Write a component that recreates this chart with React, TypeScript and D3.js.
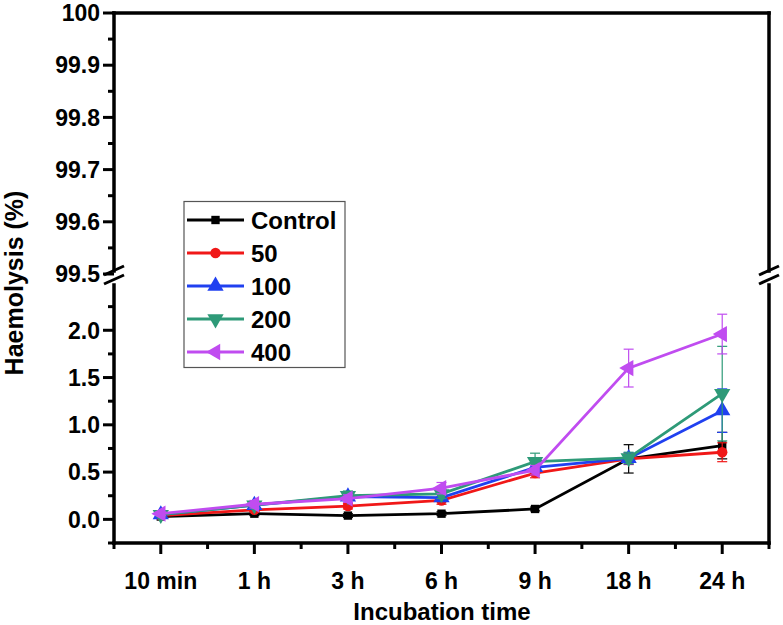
import React from "react";
import * as d3 from "d3";

const categories = ["10 min", "1 h", "3 h", "6 h", "9 h", "18 h", "24 h"];
const seriesNames = ["Control", "50", "100", "200", "400"];
const seriesColors = ["#000000", "#f01818", "#2040f0", "#2e9a78", "#c04cf0"];
const seriesShapes = ["square", "circle", "triangle", "triangleDown", "triangleLeft"];
const controlValues = [0.03, 0.06, 0.04, 0.06, 0.11, 0.64, 0.78];
const values50 = [0.04, 0.1, 0.14, 0.2, 0.49, 0.64, 0.71];
const values100 = [0.05, 0.15, 0.24, 0.23, 0.55, 0.645, 1.15];
const values200 = [0.05, 0.15, 0.25, 0.27, 0.61, 0.65, 1.33];
const values400 = [0.06, 0.16, 0.22, 0.33, 0.52, 1.6, 1.96];
const controlErr = [0.01, 0.02, 0.02, 0.02, 0.02, 0.15, 0.14];
const err50 = [0.01, 0.02, 0.03, 0.04, 0.05, 0.06, 0.1];
const err100 = [0.02, 0.03, 0.04, 0.04, 0.05, 0.06, 0.23];
const err200 = [0.02, 0.03, 0.05, 0.05, 0.09, 0.06, 0.5];
const err400 = [0.02, 0.04, 0.04, 0.06, 0.05, 0.2, 0.21];
const upperTicks = [99.5, 99.6, 99.7, 99.8, 99.9, 100];
const lowerTicks = [0.0, 0.5, 1.0, 1.5, 2.0];

const seriesValues = [controlValues, values50, values100, values200, values400];
const seriesErrors = [controlErr, err50, err100, err200, err400];

const W = 783, H = 625;
const left = 114, right = 769, top = 13, bottom = 543;
const FONT = "Liberation Sans, Arial, sans-serif";

const x = d3.scaleLinear().domain([-0.5, categories.length - 0.5]).range([left, right]);
const yLow = d3.scaleLinear().domain([-0.25, 2.5]).range([bottom, 283]);
const yUp = d3.scaleLinear().domain([99.5, 100]).range([274, top]);

function marker(shape: string, cx: number, cy: number, color: string, s = 1, key?: any) {
  const sym =
    shape === "square" ? d3.symbolSquare :
    shape === "circle" ? d3.symbolCircle :
    d3.symbolTriangle;
  const size = shape === "square" ? 70 * s : shape === "circle" ? 85 * s : 115 * s;
  const rot = shape === "triangleDown" ? 180 : shape === "triangleLeft" ? -90 : 0;
  const path = d3.symbol().type(sym).size(size)()!;
  return <path key={key} d={path} fill={color} transform={`translate(${cx},${cy}) rotate(${rot})`} />;
}

export default function App() {
  const line = d3.line<number>().x((_, i) => x(i)).y((v) => yLow(v));
  const lowerMinor = d3.range(-0.25, 2.5, 0.5);
  const upperMinor = d3.range(99.55, 100, 0.1);
  const xMinor = d3.range(-0.5, categories.length, 1);
  return (
    <svg width={W} height={H} style={{ position: "absolute", left: 0, top: 0, background: "#fff" }}>
      <rect width={W} height={H} fill="#fff" />
      {/* data */}
      {seriesNames.map((name, si) => {
        const vals = seriesValues[si];
        const errs = seriesErrors[si];
        const c = seriesColors[si];
        return (
          <g key={name}>
            {vals.map((v, i) => (
              <g key={i} stroke={c} strokeWidth={1.2}>
                <line x1={x(i)} x2={x(i)} y1={yLow(v + errs[i])} y2={yLow(v - errs[i])} />
                <line x1={x(i) - 5} x2={x(i) + 5} y1={yLow(v + errs[i])} y2={yLow(v + errs[i])} />
                <line x1={x(i) - 5} x2={x(i) + 5} y1={yLow(v - errs[i])} y2={yLow(v - errs[i])} />
              </g>
            ))}
            <path d={line(vals)!} fill="none" stroke={c} strokeWidth={2.8} />
            {vals.map((v, i) => marker(seriesShapes[si], x(i), yLow(v), c, 1, i))}
          </g>
        );
      })}
      {/* axes frame */}
      <g stroke="#000" strokeWidth={3.5} fill="none" strokeLinecap="square">
        <line x1={left} x2={right} y1={top} y2={top} />
        <line x1={left} x2={right} y1={bottom} y2={bottom} />
        <line x1={left} x2={left} y1={top} y2={271} />
        <line x1={left} x2={left} y1={285} y2={bottom} />
        <line x1={right} x2={right} y1={top} y2={271} />
        <line x1={right} x2={right} y1={285} y2={bottom} />
      </g>
      {/* break marks */}
      <g stroke="#000" strokeWidth={3}>
        {[left, right].map((bx) => (
          <g key={bx}>
            <line x1={bx - 10} y1={275} x2={bx + 10} y2={266} />
            <line x1={bx - 10} y1={284} x2={bx + 10} y2={275} />
          </g>
        ))}
      </g>
      {/* y ticks */}
      <g stroke="#000" strokeWidth={3}>
        {upperTicks.map((t) => (
          <line key={"u" + t} x1={left - 11} x2={left} y1={yUp(t)} y2={yUp(t)} />
        ))}
        {upperMinor.map((t) => (
          <line key={"um" + t} x1={left - 6} x2={left} y1={yUp(t)} y2={yUp(t)} />
        ))}
        {lowerTicks.map((t) => (
          <line key={"l" + t} x1={left - 11} x2={left} y1={yLow(t)} y2={yLow(t)} />
        ))}
        {lowerMinor.map((t) => (
          <line key={"lm" + t} x1={left - 6} x2={left} y1={yLow(t)} y2={yLow(t)} />
        ))}
        {categories.map((c, i) => (
          <line key={"x" + c} x1={x(i)} x2={x(i)} y1={bottom} y2={bottom + 11} />
        ))}
        {xMinor.map((t) => (
          <line key={"xm" + t} x1={x(t)} x2={x(t)} y1={bottom} y2={bottom + 6} />
        ))}
      </g>
      {/* tick labels */}
      <g fontFamily={FONT} fontWeight="bold" fontSize={23} fill="#000">
        {upperTicks.map((t) => (
          <text key={"ut" + t} x={100} y={yUp(t)} dy="0.36em" textAnchor="end">
            {t === 100 ? "100" : t.toFixed(1)}
          </text>
        ))}
        {lowerTicks.map((t) => (
          <text key={"lt" + t} x={100} y={yLow(t)} dy="0.36em" textAnchor="end">
            {t.toFixed(1)}
          </text>
        ))}
        {categories.map((c, i) => (
          <text key={"xt" + c} x={x(i)} y={589} textAnchor="middle">
            {c}
          </text>
        ))}
      </g>
      {/* axis titles */}
      <text x={442} y={620} textAnchor="middle" fontFamily={FONT} fontWeight="bold" fontSize={24}>
        Incubation time
      </text>
      <text
        transform={`translate(23,283) rotate(-90)`}
        textAnchor="middle"
        fontFamily={FONT}
        fontWeight="bold"
        fontSize={25}
      >
        Haemolysis (%)
      </text>
      {/* legend */}
      <g>
        <rect x={184} y={201.5} width={161} height={166} fill="#fff" stroke="#555" strokeWidth={1.2} />
        {seriesNames.map((name, si) => {
          const ly = 220 + si * 33;
          return (
            <g key={"lg" + name}>
              <line x1={187} x2={244} y1={ly} y2={ly} stroke={seriesColors[si]} strokeWidth={2.8} />
              {marker(seriesShapes[si], 215.5, ly, seriesColors[si], 1)}
              <text x={251} y={ly} dy="0.36em" fontFamily={FONT} fontWeight="bold" fontSize={24}>
                {name}
              </text>
            </g>
          );
        })}
      </g>
    </svg>
  );
}
